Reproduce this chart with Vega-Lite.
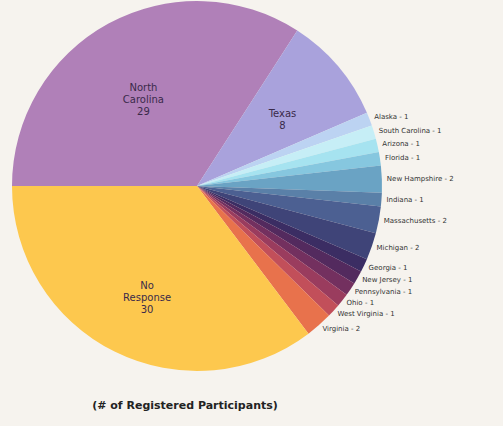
{
  "$schema": "https://vega.github.io/schema/vega-lite/v6.json",
  "width": 394,
  "height": 372,
  "autosize": {"type": "none"},
  "padding": {"left": 0, "top": 0, "right": 109, "bottom": 54},
  "background": "#f6f3ee",
  "title": {"text": "(# of Registered Participants)", "orient": "bottom", "anchor": "middle", "offset": 28, "dx": -12, "fontSize": 11, "fontWeight": "bold", "font": "DejaVu Sans", "color": "#222"},
  "config": {"view": {"stroke": null}},
  "data": {"values": [
    {"order": 1, "name": "North Carolina", "value": 29, "inner": "North\nCarolina\n29", "outer": ""},
    {"order": 2, "name": "Texas", "value": 8, "inner": "Texas\n8", "outer": ""},
    {"order": 3, "name": "Alaska", "value": 1, "inner": "", "outer": "Alaska - 1"},
    {"order": 4, "name": "South Carolina", "value": 1, "inner": "", "outer": "South Carolina - 1"},
    {"order": 5, "name": "Arizona", "value": 1, "inner": "", "outer": "Arizona - 1"},
    {"order": 6, "name": "Florida", "value": 1, "inner": "", "outer": "Florida - 1"},
    {"order": 7, "name": "New Hampshire", "value": 2, "inner": "", "outer": "New Hampshire - 2"},
    {"order": 8, "name": "Indiana", "value": 1, "inner": "", "outer": "Indiana - 1"},
    {"order": 9, "name": "Massachusetts", "value": 2, "inner": "", "outer": "Massachusetts - 2"},
    {"order": 10, "name": "Michigan", "value": 2, "inner": "", "outer": "Michigan - 2"},
    {"order": 11, "name": "Georgia", "value": 1, "inner": "", "outer": "Georgia - 1"},
    {"order": 12, "name": "New Jersey", "value": 1, "inner": "", "outer": "New Jersey - 1"},
    {"order": 13, "name": "Pennsylvania", "value": 1, "inner": "", "outer": "Pennsylvania - 1"},
    {"order": 14, "name": "Ohio", "value": 1, "inner": "", "outer": "Ohio - 1"},
    {"order": 15, "name": "West Virginia", "value": 1, "inner": "", "outer": "West Virginia - 1"},
    {"order": 16, "name": "Virginia", "value": 2, "inner": "", "outer": "Virginia - 2"},
    {"order": 17, "name": "No Response", "value": 30, "inner": "No\nResponse\n30", "outer": ""}
  ]},
  "encoding": {
    "theta": {"field": "value", "type": "quantitative", "stack": true, "scale": {"range": [4.71239, 10.99557]}},
    "order": {"field": "order", "type": "quantitative", "sort": "ascending"}
  },
  "layer": [
    {
      "mark": {"type": "arc", "outerRadius": 185, "stroke": null},
      "encoding": {
        "color": {"field": "name", "type": "nominal", "legend": null,
          "scale": {
            "domain": ["North Carolina", "Texas", "Alaska", "South Carolina", "Arizona", "Florida", "New Hampshire", "Indiana", "Massachusetts", "Michigan", "Georgia", "New Jersey", "Pennsylvania", "Ohio", "West Virginia", "Virginia", "No Response"],
            "range": ["#b080b8", "#a9a2dc", "#bcd3f2", "#c6eef6", "#a6e3f0", "#86c7df", "#6aa3c4", "#5a80a8", "#4c6092", "#3f4478", "#3b2d63", "#532a5e", "#73305f", "#9a3c5e", "#c24f5a", "#e8724c", "#fdc84e"]
          }
        }
      }
    },
    {
      "mark": {"type": "text", "radius": 112, "fontSize": 10, "font": "DejaVu Sans", "lineBreak": "\n", "color": "#3a2a4a", "align": "center", "baseline": "middle", "lineHeight": 12},
      "encoding": {"text": {"field": "inner", "type": "nominal"}}
    },
    {
      "mark": {"type": "text", "radius": 190, "fontSize": 7, "font": "DejaVu Sans", "color": "#333", "align": "left", "baseline": "middle"},
      "encoding": {"text": {"field": "outer", "type": "nominal"}}
    }
  ]
}
